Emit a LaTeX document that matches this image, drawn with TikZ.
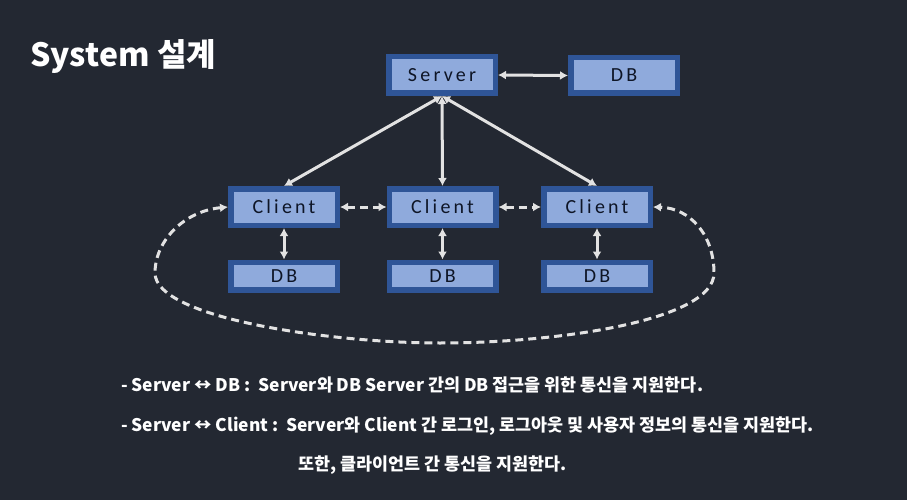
\documentclass[tikz,border=0pt]{standalone}
\usepackage{fontspec}
\usetikzlibrary{arrows.meta}
\newfontfamily\kr{Noto Sans CJK KR}
\newfontfamily\boxfont[LetterSpace=16]{Carlito}
\definecolor{bgc}{HTML}{232832}
\definecolor{boxedge}{HTML}{2F5597}
\definecolor{boxfill}{HTML}{8FAADC}
\definecolor{boxtext}{HTML}{0E1526}
\definecolor{arrowc}{HTML}{E2E2E2}
\tikzset{
  box/.style={draw=boxedge, fill=boxfill, line width=5.5pt, inner sep=0pt,
    minimum width=106.5pt, text=boxtext, font=\boxfont\fontsize{20}{22}\selectfont},
  tallbox/.style={box, minimum height=36.5pt},
  lowbox/.style={box, minimum height=27.5pt},
  link/.style={draw=arrowc, line width=3pt, {Latex[length=8pt,width=9pt]}-{Latex[length=8pt,width=9pt]}},
  dlink/.style={link, dash pattern=on 8pt off 5pt},
  txt/.style={text=white, anchor=base west, inner sep=0pt, font=\kr\bfseries\fontsize{17.4}{20}\selectfont}
}
\begin{document}
\begin{tikzpicture}[x=1pt,y=-1pt]
\fill[bgc] (0,0) rectangle (907,500);
\useasboundingbox (0,0) rectangle (907,500);

\node[text=white, anchor=base west, inner sep=0pt, font=\kr\bfseries\fontsize{32}{36}\selectfont] (title) at (30,67) {System 설계};

\node[tallbox] (srv) at (442,75) {Server};
\node[box, minimum height=35.5pt] (sdb) at (624,75.5) {DB};
\node[tallbox] (c1) at (284,207) {Client};
\node[tallbox] (c2) at (442.5,207) {Client};
\node[tallbox] (c3) at (597,207) {Client};
\node[lowbox] (d1) at (284,276) {DB};
\node[lowbox] (d2) at (442.5,276) {DB};
\node[lowbox] (d3) at (597,276) {DB};

\draw[link] (srv.east) -- (sdb.west);
\draw[link] (srv.south) -- (c1.north);
\draw[link] (srv.south) -- (c2.north);
\draw[link] (srv.south) -- (c3.north);
\draw[link] (c1.south) -- (d1.north);
\draw[link] (c2.south) -- (d2.north);
\draw[link] (c3.south) -- (d3.north);
\draw[dlink] (c1.east) -- (c2.west);
\draw[dlink] (c2.east) -- (c3.west);
\draw[dlink] (c1.west) .. controls (185,211) and (155,240) .. (155,273)
  .. controls (155,318) and (330,343) .. (440,343)
  .. controls (560,343) and (714,320) .. (714,273)
  .. controls (714,235) and (690,208) .. (c3.east);

\node[txt] (l1) at (121,391) {- Server ↔ DB :\ \ Server와 DB Server 간의 DB 접근을 위한 통신을 지원한다.};
\node[txt] (l2) at (121,431) {- Server ↔ Client :\ \ Server와 Client 간 로그인, 로그아웃 및 사용자 정보의 통신을 지원한다.};
\node[txt] (l3) at (298,470) {또한, 클라이언트 간 통신을 지원한다.};
\end{tikzpicture}
\end{document}
